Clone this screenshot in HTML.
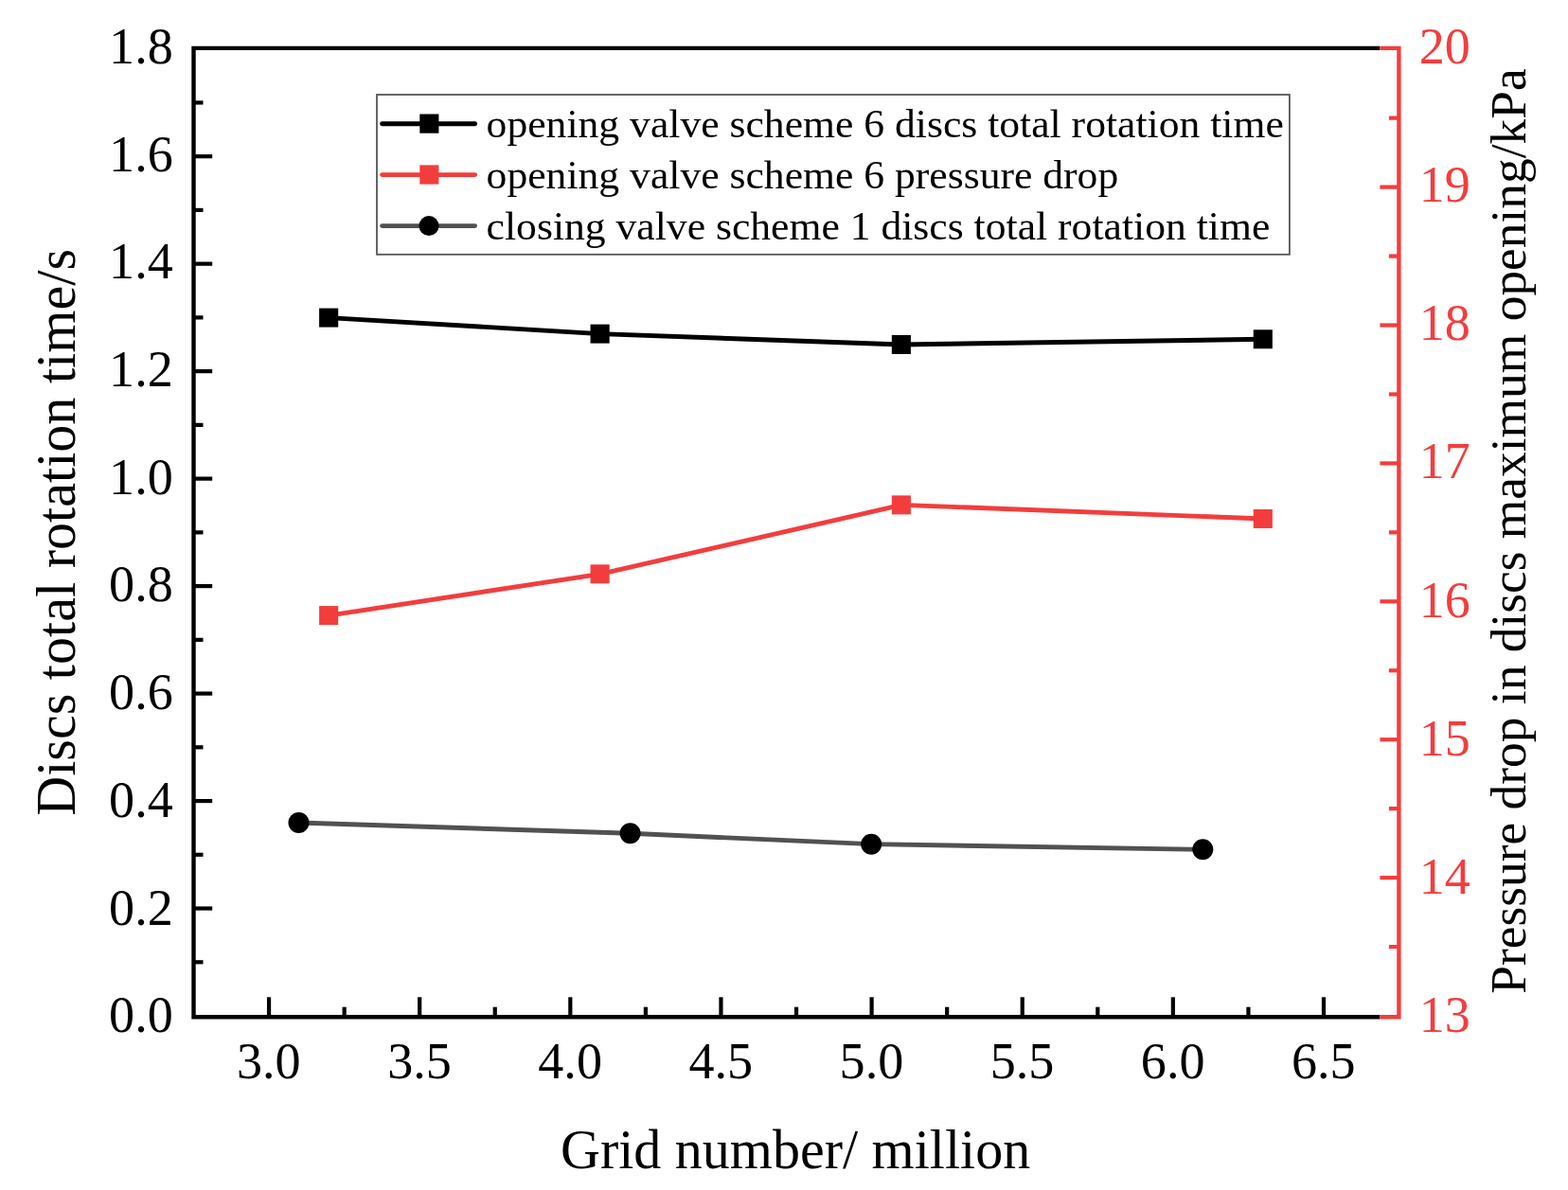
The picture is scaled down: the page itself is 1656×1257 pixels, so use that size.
<!DOCTYPE html>
<html lang="en"><head><meta charset="utf-8"><title>Grid independence</title>
<style>
html,body{margin:0;padding:0;background:#fff;}
body{width:1656px;height:1257px;overflow:hidden;}
svg{display:block;}
text{font-family:"Liberation Serif",serif;}
.t{font-size:54.1px;}
.a{font-size:58px;}
.l{font-size:43.1px;}
</style></head><body>
<svg width="1656" height="1257" viewBox="0 0 1656 1257">
<rect width="1656" height="1257" fill="#fff"/>
<g stroke="#000" stroke-width="4.2" fill="none">
<path d="M204.5 1016.29 H214.50"/>
<path d="M204.5 959.55 H224.20"/>
<path d="M204.5 902.81 H214.50"/>
<path d="M204.5 846.07 H224.20"/>
<path d="M204.5 789.33 H214.50"/>
<path d="M204.5 732.59 H224.20"/>
<path d="M204.5 675.85 H214.50"/>
<path d="M204.5 619.11 H224.20"/>
<path d="M204.5 562.37 H214.50"/>
<path d="M204.5 505.62 H224.20"/>
<path d="M204.5 448.88 H214.50"/>
<path d="M204.5 392.14 H224.20"/>
<path d="M204.5 335.40 H214.50"/>
<path d="M204.5 278.66 H224.20"/>
<path d="M204.5 221.92 H214.50"/>
<path d="M204.5 165.18 H224.20"/>
<path d="M204.5 108.44 H214.50"/>
<path d="M284.05 1074.2 V1053.30"/>
<path d="M363.62 1074.2 V1063.70"/>
<path d="M443.19 1074.2 V1053.30"/>
<path d="M522.75 1074.2 V1063.70"/>
<path d="M602.32 1074.2 V1053.30"/>
<path d="M681.89 1074.2 V1063.70"/>
<path d="M761.45 1074.2 V1053.30"/>
<path d="M841.02 1074.2 V1063.70"/>
<path d="M920.59 1074.2 V1053.30"/>
<path d="M1000.16 1074.2 V1063.70"/>
<path d="M1079.72 1074.2 V1053.30"/>
<path d="M1159.29 1074.2 V1063.70"/>
<path d="M1238.86 1074.2 V1053.30"/>
<path d="M1318.43 1074.2 V1063.70"/>
<path d="M1397.99 1074.2 V1053.30"/>
</g>
<path d="M1457.3 50.9 H204.5 V1074.2 H1457.3" stroke="#000" stroke-width="4.4" fill="none"/>
<g stroke="#f33d3d" stroke-width="4.2" fill="none">
<path d="M1477.4 1000.08 H1466.90"/>
<path d="M1477.4 927.13 H1457.40"/>
<path d="M1477.4 854.17 H1466.90"/>
<path d="M1477.4 781.22 H1457.40"/>
<path d="M1477.4 708.27 H1466.90"/>
<path d="M1477.4 635.32 H1457.40"/>
<path d="M1477.4 562.37 H1466.90"/>
<path d="M1477.4 489.41 H1457.40"/>
<path d="M1477.4 416.46 H1466.90"/>
<path d="M1477.4 343.51 H1457.40"/>
<path d="M1477.4 270.56 H1466.90"/>
<path d="M1477.4 197.60 H1457.40"/>
<path d="M1477.4 124.65 H1466.90"/>
</g>
<path d="M1457.3 50.9 H1477.4 V1074.2 H1457.3" stroke="#f33d3d" stroke-width="4.4" fill="none"/>
<g class="t" fill="#000" text-anchor="end">
<text transform="translate(182.7 1090.20) scale(1 1.01)">0.0</text>
<text transform="translate(182.7 976.50) scale(1 1.01)">0.2</text>
<text transform="translate(182.7 862.80) scale(1 1.01)">0.4</text>
<text transform="translate(182.7 749.10) scale(1 1.01)">0.6</text>
<text transform="translate(182.7 635.40) scale(1 1.01)">0.8</text>
<text transform="translate(182.7 521.70) scale(1 1.01)">1.0</text>
<text transform="translate(182.7 408.00) scale(1 1.01)">1.2</text>
<text transform="translate(182.7 294.30) scale(1 1.01)">1.4</text>
<text transform="translate(182.7 180.60) scale(1 1.01)">1.6</text>
<text transform="translate(182.7 66.90) scale(1 1.01)">1.8</text>
</g>
<g class="t" fill="#000" text-anchor="middle">
<text transform="translate(283.85 1138.5) scale(1 1.01)">3.0</text>
<text transform="translate(442.99 1138.5) scale(1 1.01)">3.5</text>
<text transform="translate(602.12 1138.5) scale(1 1.01)">4.0</text>
<text transform="translate(761.25 1138.5) scale(1 1.01)">4.5</text>
<text transform="translate(920.39 1138.5) scale(1 1.01)">5.0</text>
<text transform="translate(1079.52 1138.5) scale(1 1.01)">5.5</text>
<text transform="translate(1238.66 1138.5) scale(1 1.01)">6.0</text>
<text transform="translate(1397.79 1138.5) scale(1 1.01)">6.5</text>
</g>
<g class="t" fill="#f33d3d" text-anchor="start">
<text transform="translate(1498.8 1090.20) scale(1 1.01)">13</text>
<text transform="translate(1498.8 944.01) scale(1 1.01)">14</text>
<text transform="translate(1498.8 797.83) scale(1 1.01)">15</text>
<text transform="translate(1498.8 651.64) scale(1 1.01)">16</text>
<text transform="translate(1498.8 505.46) scale(1 1.01)">17</text>
<text transform="translate(1498.8 359.27) scale(1 1.01)">18</text>
<text transform="translate(1498.8 213.09) scale(1 1.01)">19</text>
<text transform="translate(1498.8 66.90) scale(1 1.01)">20</text>
</g>
<text class="a" text-anchor="middle" transform="translate(840.1 1233.7) scale(1 1.035)">Grid number/ million</text>
<text class="a" text-anchor="middle" transform="translate(78.9 562.4) rotate(-90) scale(1.002 1.035)">Discs total rotation time/s</text>
<text style="font-size:53.4px" text-anchor="middle" transform="translate(1611.3 561) rotate(-90)">Pressure drop in discs maximum opening/kPa</text>
<path d="M347.30 335.60 L633.75 352.62 L952.02 363.97 L1333.94 358.30" stroke="#000" stroke-width="4.9" fill="none" stroke-linejoin="round"/>
<rect x="337.10" y="325.60" width="20.1" height="20" fill="#000"/>
<rect x="623.55" y="342.62" width="20.1" height="20" fill="#000"/>
<rect x="941.82" y="353.97" width="20.1" height="20" fill="#000"/>
<rect x="1323.74" y="348.30" width="20.1" height="20" fill="#000"/>
<path d="M347.30 650.11 L633.75 606.34 L952.02 533.38 L1333.94 547.97" stroke="#f33d3d" stroke-width="4.9" fill="none" stroke-linejoin="round"/>
<rect x="337.10" y="640.11" width="20.1" height="20" fill="#f33d3d"/>
<rect x="623.55" y="596.34" width="20.1" height="20" fill="#f33d3d"/>
<rect x="941.82" y="523.38" width="20.1" height="20" fill="#f33d3d"/>
<rect x="1323.74" y="537.97" width="20.1" height="20" fill="#f33d3d"/>
<path d="M315.48 868.96 L665.57 880.31 L920.19 891.66 L1270.29 897.33" stroke="#515151" stroke-width="4.9" fill="none" stroke-linejoin="round"/>
<circle cx="315.48" cy="868.96" r="11" fill="#000"/>
<circle cx="665.57" cy="880.31" r="11" fill="#000"/>
<circle cx="920.19" cy="891.66" r="11" fill="#000"/>
<circle cx="1270.29" cy="897.33" r="11" fill="#000"/>
<rect x="398" y="100" width="963.9" height="168.8" fill="#fff" stroke="#555" stroke-width="1.8"/>
<path d="M403.6 130.7 H501.6" stroke="#000" stroke-width="4.9" stroke-linecap="round"/>
<rect x="443.3" y="120.5" width="20.1" height="20.2" fill="#000"/>
<text class="l" transform="translate(513.6 145.1) scale(1.0128 1)">opening valve scheme 6 discs total rotation time</text>
<path d="M403.6 184.6 H501.6" stroke="#f33d3d" stroke-width="4.9" stroke-linecap="round"/>
<rect x="443.3" y="174.4" width="20.1" height="20.2" fill="#f33d3d"/>
<text class="l" transform="translate(513.6 199.0) scale(1.0128 1)">opening valve scheme 6 pressure drop</text>
<path d="M403.6 238.6 H501.6" stroke="#515151" stroke-width="4.9" stroke-linecap="round"/>
<circle cx="453" cy="238.6" r="10.5" fill="#000"/>
<text class="l" transform="translate(513.6 253.0) scale(1.0128 1)">closing valve scheme 1 discs total rotation time</text>
</svg></body></html>
